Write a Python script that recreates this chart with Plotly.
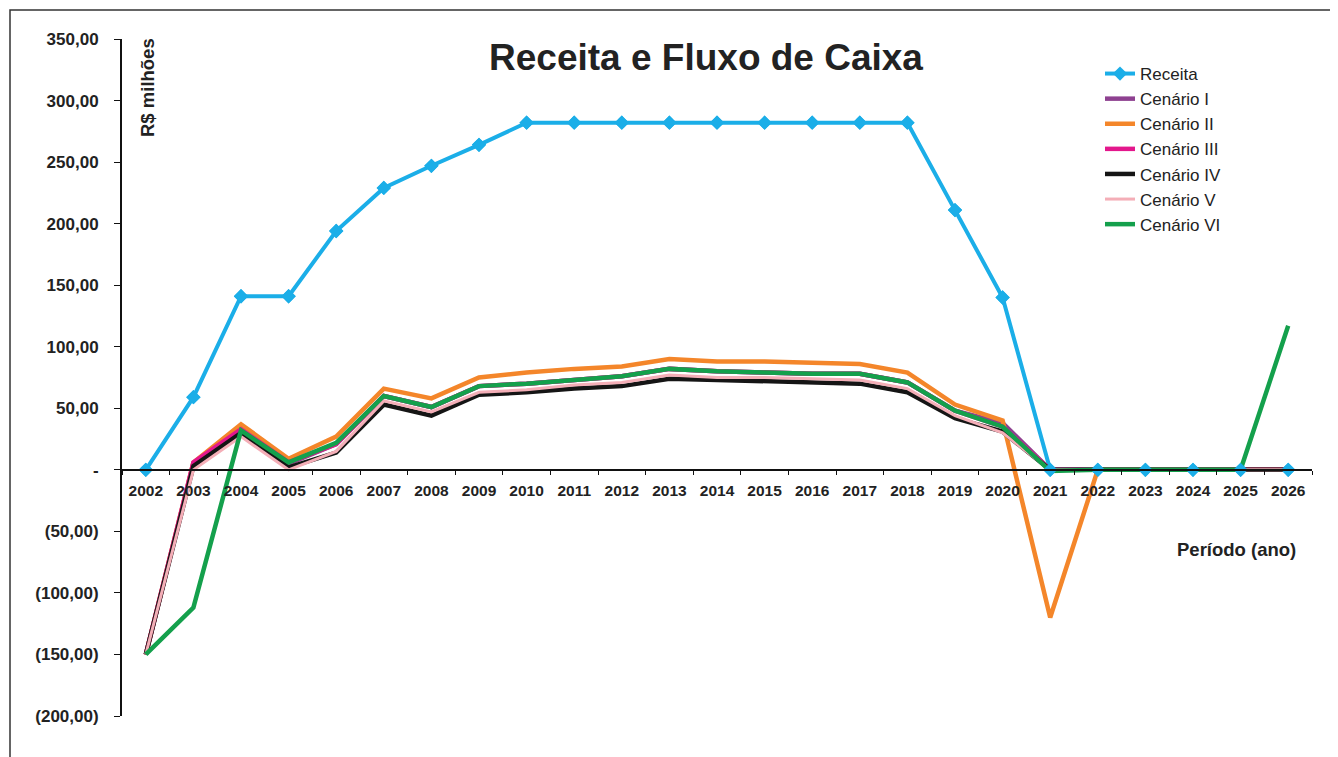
import plotly.graph_objects as go

anos = [str(a) for a in range(2002, 2027)]
receita = [0, 59, 141, 141, 194, 229, 247, 264, 282, 282, 282, 282, 282, 282, 282, 282, 282, 211, 140, 0, 0, 0, 0, 0, 0]
cenario_1 = [-150, 5, 32, 5, 21, 60, 51, 68, 70, 73, 76, 82, 80, 79, 78, 78, 71, 48, 38, 0, 0, 0, 0, 0, 0]
cenario_2 = [-150, 6, 37, 9, 27, 66, 58, 75, 79, 82, 84, 90, 88, 88, 87, 86, 79, 53, 40, -120, 0, 0, 0, 0, 0]
cenario_3 = [-150, 6, 33, 6, 21, 60, 51, 68, 70, 73, 76, 82, 80, 79, 78, 78, 71, 48, 35, 0, 0, 0, 0, 0, 0]
cenario_4 = [-150, 3, 30, 2, 14, 53, 44, 61, 63, 66, 68, 74, 73, 72, 71, 70, 63, 42, 31, 0, 0, 0, 0, 0, 0]
cenario_5 = [-150, 0, 27, 0, 15, 56, 47, 63, 65, 69, 71, 77, 75, 75, 74, 73, 66, 44, 30, 0, 0, 0, 0, 0, 0]
cenario_6 = [-150, -112, 32, 6, 22, 60, 51, 68, 70, 73, 76, 82, 80, 79, 78, 78, 71, 48, 35, -1, 0, 0, 0, 0, 117]

y_ticks = [350, 300, 250, 200, 150, 100, 50, 0, -50, -100, -150, -200]
y_tick_text = ["350,00", "300,00", "250,00", "200,00", "150,00", "100,00", "50,00", "-",
               "(50,00)", "(100,00)", "(150,00)", "(200,00)"]

BLUE = "#1BAEE8"
fig = go.Figure()
fig.add_trace(go.Scatter(x=anos, y=receita, name="Receita", mode="lines+markers",
                         line=dict(color=BLUE, width=4),
                         marker=dict(symbol="diamond", size=11, color=BLUE)))
series = [
    ("Cenário I", cenario_1, "#8E4190", 4.5),
    ("Cenário II", cenario_2, "#F4862A", 4.5),
    ("Cenário III", cenario_3, "#E3178C", 4.5),
    ("Cenário IV", cenario_4, "#151515", 4.5),
    ("Cenário V", cenario_5, "#F4AEB7", 3),
    ("Cenário VI", cenario_6, "#14A04C", 4.5),
]
for nome, vals, cor, w in series:
    fig.add_trace(go.Scatter(x=anos, y=vals, name=nome, mode="lines",
                             line=dict(color=cor, width=w)))
fig.add_trace(go.Scatter(x=anos, y=receita, mode="markers", showlegend=False,
                         marker=dict(symbol="diamond", size=11, color=BLUE), hoverinfo="skip"))

FONT = "Liberation Sans, Arial, sans-serif"
TXT = "#222222"
# page body adds an 8px margin: figure occupies absolute x 8.., y 8..
W, H = 1330, 749
L, T, R, B = 114, 31, 26, 41
PX0, PY0, PW, PH = 122, 39, 1190, 677  # absolute plot-area geometry


def px(xa):
    return (xa - PX0) / PW


def py(ya):
    return 1 - (ya - PY0) / PH


fig.update_layout(
    width=W, height=H,
    margin=dict(l=L, r=R, t=T, b=B),
    paper_bgcolor="white", plot_bgcolor="white",
    font=dict(family=FONT, color=TXT),
    title=dict(text="<b>Receita e Fluxo de Caixa</b>", x=(706 - 8) / W, xref="container",
               xanchor="center", y=1 - (57 - 8) / H, yref="container", yanchor="middle",
               font=dict(size=37, color=TXT, family=FONT)),
    legend=dict(x=px(1100), y=py(56), xanchor="left", yanchor="top",
                font=dict(size=17, color=TXT), bgcolor="rgba(0,0,0,0)",
                tracegroupgap=0, itemwidth=30),
    showlegend=True,
)
fig.update_xaxes(type="category", range=[-0.5, 24.5], anchor="free", position=200 / 550,
                 showline=True, linecolor="#111111", linewidth=2,
                 ticks="outside", tickson="boundaries", ticklen=4, tickcolor="#111111",
                 tickfont=dict(size=15.5, family=FONT, color=TXT),
                 ticklabelstandoff=7,
                 tickprefix="<b>", ticksuffix="</b>",
                 showgrid=False, zeroline=False)
fig.update_yaxes(range=[-200, 350], tickvals=y_ticks,
                 ticktext=[f"<b>{t}</b>" for t in y_tick_text],
                 showline=True, linecolor="#111111", linewidth=2,
                 ticks="outside", ticklen=6, tickcolor="#111111",
                 tickfont=dict(size=17, family=FONT, color=TXT),
                 ticklabelstandoff=12,
                 showgrid=False, zeroline=False)

fig.add_annotation(text="<b>R$ milhões</b>", textangle=-90, xref="paper", yref="paper",
                   x=px(148), y=py(88), xanchor="center", yanchor="middle", showarrow=False,
                   font=dict(size=18.5, color=TXT))
fig.add_annotation(text="<b>Período (ano)</b>", xref="paper", yref="paper",
                   x=px(1236), y=py(549), xanchor="center", yanchor="middle", showarrow=False,
                   font=dict(size=18.5, color=TXT))

# frame around the picture
fx0, fx1 = px(10), px(1336)
fy1, fy0 = py(10), py(770)
fig.add_shape(type="path", xref="paper", yref="paper",
              path=f"M {fx0} {fy0} L {fx0} {fy1} L {fx1} {fy1} L {fx1} {fy0}",
              line=dict(color="#333333", width=1.5))

fig.write_html("out.html")
